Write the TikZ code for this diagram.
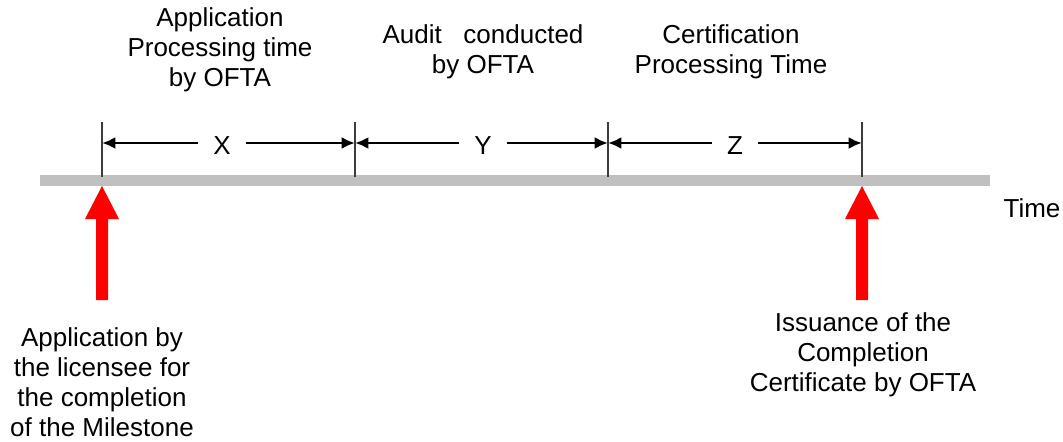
\documentclass[tikz,border=0pt]{standalone}
\usepackage{fontspec}
\setmainfont{Liberation Sans}
\usepackage{tikz}
\usetikzlibrary{arrows.meta}

\tikzset{
  lbl/.style={align=center,inner sep=0pt,font=\fontsize{19.5}{22.5}\selectfont},
  dimlbl/.style={inner sep=11pt,font=\fontsize{19.5}{22.5}\selectfont},
  dimline/.style={line width=2pt,-{Latex[length=10pt,width=9pt]}},
  tickline/.style={line width=0.8pt,draw={rgb,255:red,60;green,60;blue,60}},
  redarrow/.style={fill={rgb,255:red,255;green,0;blue,0},draw=none}
}

\begin{document}
\begin{tikzpicture}[x=0.75pt,y=0.75pt,yscale=-1,xscale=1]
\useasboundingbox (0,0) rectangle (1063,442);

%Time axis
\fill [color={rgb, 255:red, 192; green, 192; blue, 192 }] (40,175) rectangle (990,186);

%Tick points
\coordinate (ta) at (102,122);
\coordinate (tb) at (355,122);
\coordinate (tc) at (608,122);
\coordinate (td) at (862,122);
\coordinate (ba) at (102,177);
\coordinate (bb) at (355,177);
\coordinate (bc) at (608,177);
\coordinate (bd) at (862,177);

%Straight Lines
\draw [tickline] (ta) -- (ba) ;
\draw [tickline] (tb) -- (bb) ;
\draw [tickline] (tc) -- (bc) ;
\draw [tickline] (td) -- (bd) ;

% Text Node
\node (x) [dimlbl] at (222,146) {X};
\node (y) [dimlbl] at (483,146) {Y};
\node (z) [dimlbl] at (735,146) {Z};

%Dimension arrows
\draw [dimline] (x.west |- 0,143) -- (ta |- 0,143) ;
\draw [dimline] (x.east |- 0,143) -- (tb |- 0,143) ;
\draw [dimline] (y.west |- 0,143) -- (tb |- 0,143) ;
\draw [dimline] (y.east |- 0,143) -- (tc |- 0,143) ;
\draw [dimline] (z.west |- 0,143) -- (tc |- 0,143) ;
\draw [dimline] (z.east |- 0,143) -- (td |- 0,143) ;

%Block arrows
\fill [redarrow] (102,186) -- (119,219) -- (108,219) -- (108,300) -- (96,300) -- (96,219) -- (85,219) -- cycle ;
\fill [redarrow] (862,186) -- (879,219) -- (868,219) -- (868,300) -- (856,300) -- (856,219) -- (845,219) -- cycle ;

% Text Node
\node (app) [lbl] at (220,50) {Application\\Processing time\\by OFTA};
% Text Node
\node (aud) [lbl] at (483,52) {Audit \ \ conducted\\by OFTA};
% Text Node
\node (cert) [lbl] at (731,52) {Certification\\Processing Time};
% Text Node
\node (time) [lbl] at (1032,208) {Time};
% Text Node
\node (lic) [lbl] at (102,382) {Application by\\the licensee for\\the completion\\of the Milestone};
% Text Node
\node (iss) [lbl] at (863,355) {Issuance of the\\Completion\\Certificate by OFTA};

\end{tikzpicture}
\end{document}
